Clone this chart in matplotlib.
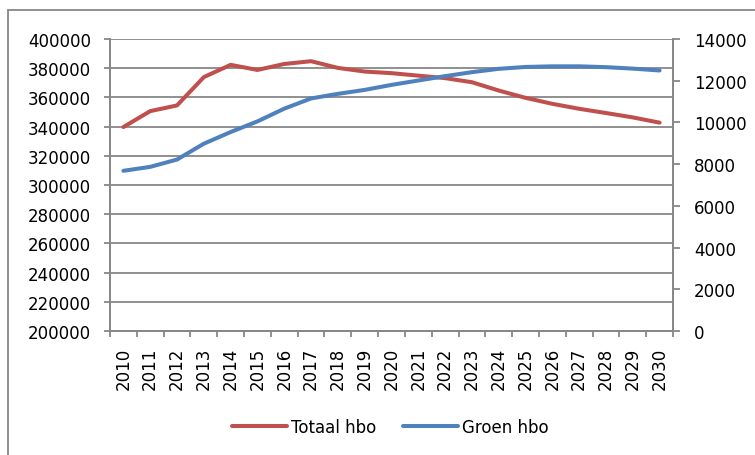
import matplotlib
matplotlib.use("Agg")
import matplotlib.pyplot as plt
from matplotlib.patches import Rectangle

years = [str(y) for y in range(2010, 2031)]
totaal_hbo = [339700, 350600, 354500, 373900, 382300, 378800, 382900, 384800,
              380200, 377700, 376600, 374900, 373200, 370400, 364700, 359700,
              355600, 352200, 349300, 346300, 342700]
groen_hbo = [7680, 7870, 8220, 8980, 9540, 10050, 10660, 11150, 11370, 11560,
             11800, 12010, 12220, 12410, 12570, 12660, 12690, 12690, 12650,
             12580, 12490]

red = '#C0504D'
blue = '#4F81BD'
grey = '#878787'

plt.rcParams['font.family'] = ['DejaVu Sans']
plt.rcParams['font.size'] = 12

fig = plt.figure(figsize=(7.55, 4.56), dpi=100)
ax = fig.add_axes([110 / 755, 1 - 332 / 456, (673 - 110) / 755, (332 - 40) / 456])
ax2 = ax.twinx()

x = range(len(years))
l1, = ax.plot(x, totaal_hbo, color=red, lw=2.9, solid_capstyle='round',
              solid_joinstyle='round', label='Totaal hbo')
l2, = ax2.plot(x, groen_hbo, color=blue, lw=2.9, solid_capstyle='round',
               solid_joinstyle='round', label='Groen hbo')

ax.set_xlim(-0.5, len(years) - 0.5)
ax.set_ylim(200000, 400000)
ax.set_yticks(range(200000, 400001, 20000))
ax2.set_ylim(0, 14000)
ax2.set_yticks(range(0, 14001, 2000))

ax.set_xticks(list(x))
ax.set_xticklabels(years, rotation=90)
ax.set_xticks([i - 0.5 for i in range(len(years) + 1)], minor=True)
ax.tick_params(axis='x', which='major', length=0, pad=11)
ax.tick_params(axis='x', which='minor', length=4, width=1.3, color=grey)
ax.tick_params(axis='y', length=4.5, width=1.3, color=grey, pad=9)
ax2.tick_params(axis='y', length=5, width=1.3, color=grey, pad=10)

ax.yaxis.grid(True, color=grey, lw=1.3)
ax.set_axisbelow(True)

for a in (ax, ax2):
    for s in a.spines.values():
        s.set_color(grey)
        s.set_linewidth(1.3)
    a.spines['top'].set_visible(False)

fig.legend([l1, l2], ['Totaal hbo', 'Groen hbo'], loc='center',
           bbox_to_anchor=(390 / 755, 1 - 428 / 456), ncol=2, frameon=False,
           handlelength=3.3, handletextpad=0.25, columnspacing=1.6)

# outer chart border (only left and top edges visible)
fig.patches.append(Rectangle((8 / 755, -0.1), 1.2, 1 - 11 / 456 + 0.1,
                             transform=fig.transFigure, fill=False,
                             edgecolor=grey, lw=1.3))

fig.savefig('out.png', dpi=100)
